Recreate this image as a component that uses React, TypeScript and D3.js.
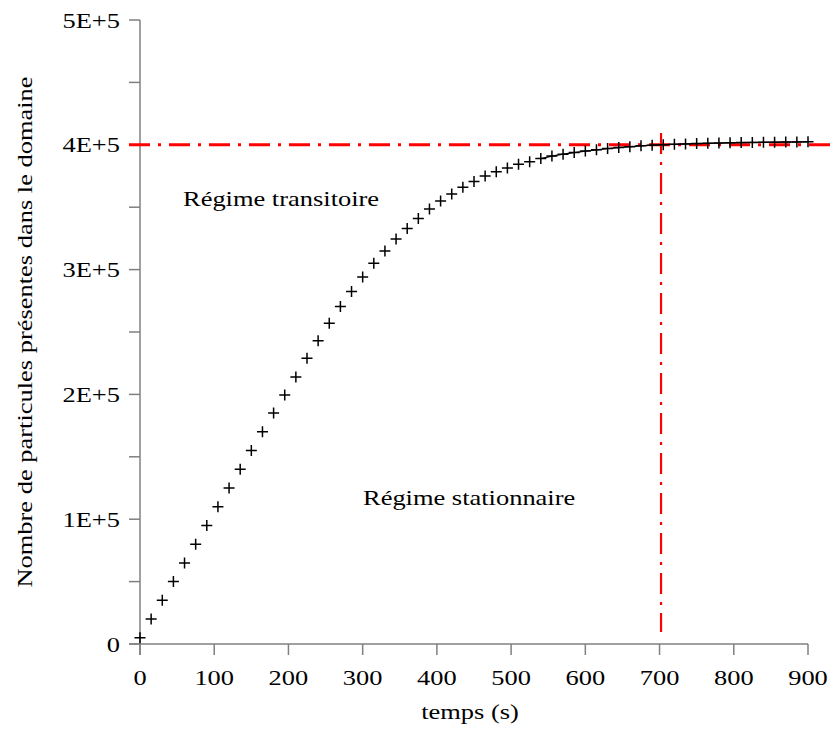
import React from "react";
import * as d3 from "d3";

const times = [0, 15, 30, 45, 60, 75, 90, 105, 120, 135, 150, 165, 180, 195, 210, 225, 240, 255, 270, 285, 300, 315, 330, 345, 360, 375, 390, 405, 420, 435, 450, 465, 480, 495, 510, 525, 540, 555, 570, 585, 600, 615, 630, 645, 660, 675, 690, 705, 720, 735, 750, 765, 780, 795, 810, 825, 840, 855, 870, 885, 900];
const particles = [5000, 20000, 35000, 50000, 65000, 80000, 95000, 110000, 125000, 140000, 155000, 170000, 185000, 199500, 214000, 229000, 243000, 257000, 270500, 282500, 294000, 305000, 315000, 324500, 333000, 341000, 348500, 355000, 360500, 366000, 370500, 375000, 378500, 381500, 384500, 386500, 389000, 391000, 392500, 393800, 395000, 396000, 397000, 397800, 398500, 399200, 399700, 400100, 400400, 400700, 401000, 401200, 401400, 401600, 401800, 401900, 402000, 402100, 402200, 402300, 402400];
const xTicks = [0, 100, 200, 300, 400, 500, 600, 700, 800, 900];
const yTicks = [0, 100000, 200000, 300000, 400000, 500000];
const yTickLabels = ["0", "1E+5", "2E+5", "3E+5", "4E+5", "5E+5"];
const yMinorTicks = [50000, 150000, 250000, 350000, 450000];
const steadyValue = 400000;
const steadyTime = 702;
const lineStartTime = 540;

const FONT = "'Liberation Serif', 'Times New Roman', 'DejaVu Serif', serif";
const FS = 21;
const SX = 1.26;

function T(props: { x: number; y: number; anchor?: "start" | "middle" | "end"; rotate?: boolean; dy?: string; children: React.ReactNode }) {
  const { x, y, anchor = "start", rotate = false, dy, children } = props;
  const tr = rotate ? `translate(${x},${y}) rotate(-90) scale(${SX},1)` : `translate(${x},${y}) scale(${SX},1)`;
  return (
    <text transform={tr} textAnchor={anchor} dy={dy} fontSize={FS} fill="#000" style={{ fontFamily: FONT }}>
      {children}
    </text>
  );
}

export default function App() {
  const x = d3.scaleLinear().domain([0, 900]).range([140, 808]);
  const y = d3.scaleLinear().domain([0, 500000]).range([644, 20]);
  const axisColor = "#808080";
  const tickLen = 11;
  const pts = times.map((t, i) => ({ t, v: particles[i] }));
  const line = d3
    .line<{ t: number; v: number }>()
    .x((d) => x(d.t))
    .y((d) => y(d.v));
  const steadyPts = pts.filter((d) => d.t >= lineStartTime);
  const m = 5.5;

  return (
    <svg width={830} height={729} style={{ position: "absolute", left: 0, top: 0, background: "#fff" }}>
      <line x1={x(0)} x2={x(0)} y1={y(500000)} y2={y(0) + tickLen} stroke={axisColor} strokeWidth={1.5} />
      <line x1={x(0) - tickLen} x2={x(900)} y1={y(0)} y2={y(0)} stroke={axisColor} strokeWidth={1.5} />
      {yTicks.map((v, i) => (
        <g key={"yt" + v}>
          <line x1={x(0) - tickLen} x2={x(0)} y1={y(v)} y2={y(v)} stroke={axisColor} strokeWidth={1.5} />
          <T x={120} y={y(v)} anchor="end" dy="0.36em">
            {yTickLabels[i]}
          </T>
        </g>
      ))}
      {yMinorTicks.map((v) => (
        <line key={"ym" + v} x1={x(0) - tickLen} x2={x(0)} y1={y(v)} y2={y(v)} stroke={axisColor} strokeWidth={1.5} />
      ))}
      {xTicks.map((t) => (
        <g key={"xt" + t}>
          <line x1={x(t)} x2={x(t)} y1={y(0)} y2={y(0) + tickLen} stroke={axisColor} strokeWidth={1.5} />
          <T x={x(t)} y={685} anchor="middle">
            {t}
          </T>
        </g>
      ))}
      <T x={470} y={719} anchor="middle">
        temps (s)
      </T>
      <T x={32} y={332} anchor="middle" rotate>
        Nombre de particules présentes dans le domaine
      </T>

      <line
        x1={x(0) - tickLen}
        x2={830}
        y1={y(steadyValue)}
        y2={y(steadyValue)}
        stroke="#ff0000"
        strokeWidth={3}
        strokeDasharray="21,8,3,8"
      />
      <line
        x1={x(steadyTime)}
        x2={x(steadyTime)}
        y1={y(409500)}
        y2={y(9600)}
        stroke="#ff0000"
        strokeWidth={2.2}
        strokeDasharray="21,8,3,8"
      />

      <path d={line(steadyPts) ?? ""} fill="none" stroke="#000" strokeWidth={1.3} />
      {pts.map((d) => (
        <path
          key={"p" + d.t}
          d={`M${x(d.t) - m},${y(d.v)}H${x(d.t) + m}M${x(d.t)},${y(d.v) - m}V${y(d.v) + m}`}
          stroke="#000"
          strokeWidth={1.5}
          fill="none"
        />
      ))}

      <T x={183} y={206}>Régime transitoire</T>
      <T x={363} y={505}>Régime stationnaire</T>
    </svg>
  );
}
